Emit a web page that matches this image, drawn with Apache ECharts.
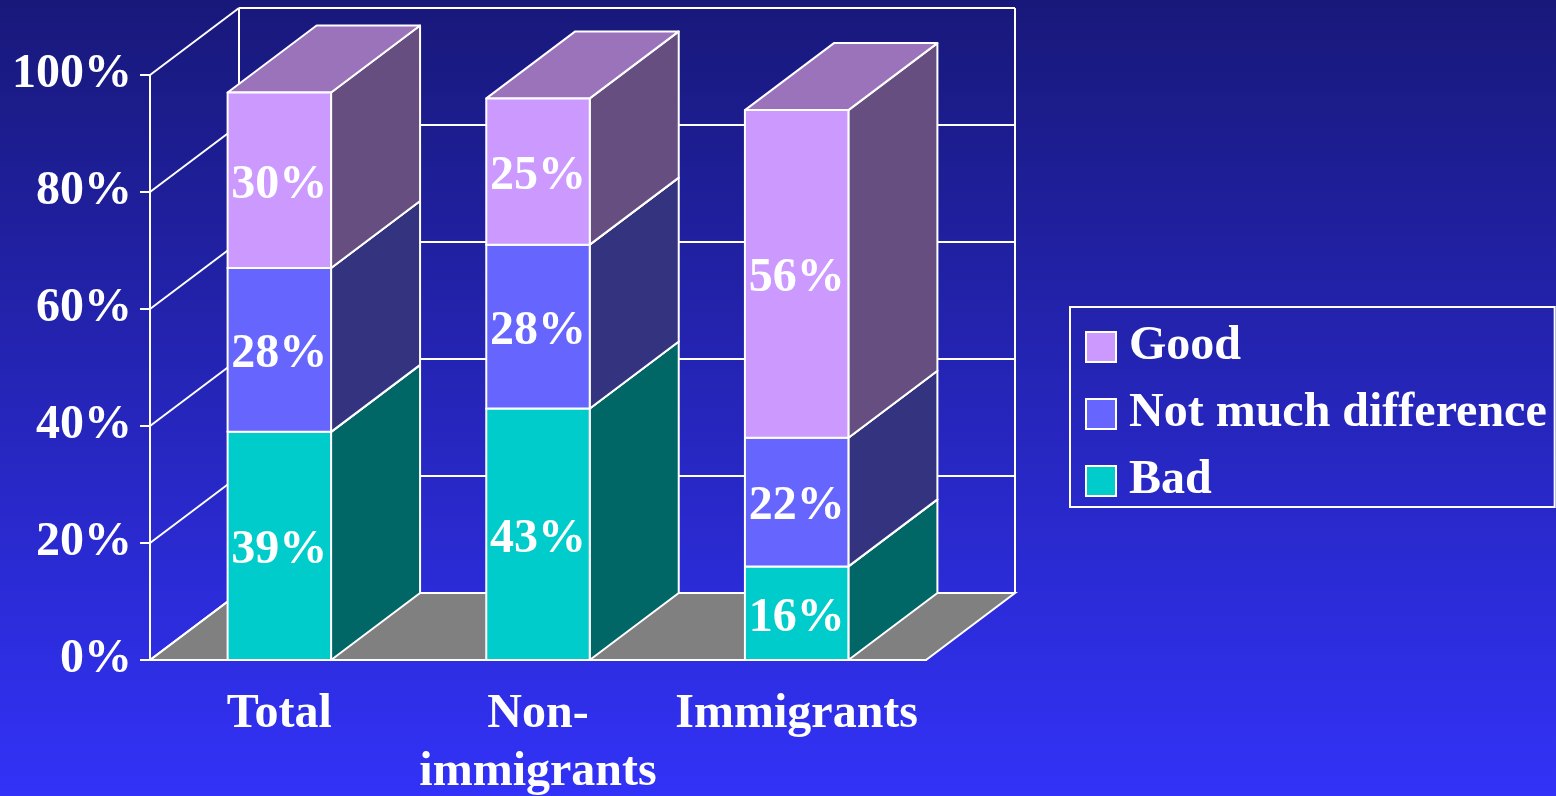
<!DOCTYPE html>
<html>
<head>
<meta charset="utf-8">
<script src="https://cdn.jsdelivr.net/npm/echarts@6/dist/echarts.min.js"></script>
<style>
  html, body { margin: 0; padding: 0; }
  #chart { width: 1556px; height: 796px; }
</style>
</head>
<body>
<div id="chart"></div>
<script>
// Survey answers per group, in percent
const categories = ['Total', 'Non-\nimmigrants', 'Immigrants'];
const bad = [39, 43, 16];
const notMuch = [28, 28, 22];
const good = [30, 25, 56];
const yTicks = [0, 20, 40, 60, 80, 100];

// Oblique projection of the box depth, in pixels
const DEPTH_X = 89;
const DEPTH_Y = -67;
const FONT = '"Liberation Serif", "Times New Roman", serif';
const FONT_SIZE = 48;
const EDGE = '#ffffff';

// Face colours for each stacked segment: front, side, top
const faces = {
  'Bad': { front: '#00cccc', side: '#006666', top: '#009999' },
  'Not much difference': { front: '#6666ff', side: '#333380', top: '#4d4dbf' },
  'Good': { front: '#cc99ff', side: '#664f80', top: '#9a73bb' }
};

// Stack the segments bottom-up
const stackOrder = [
  { name: 'Bad', values: bad },
  { name: 'Not much difference', values: notMuch },
  { name: 'Good', values: good }
];
const running = categories.map(() => 0);
const stacked = stackOrder.map(s => {
  const rows = s.values.map((v, i) => {
    const row = [i, running[i], v];
    running[i] += v;
    return row;
  });
  return { name: s.name, rows };
});

function boxRenderer(name) {
  const c = faces[name];
  return function (params, api) {
    const ci = api.value(0);
    const base = api.value(1);
    const v = api.value(2);
    const pb = api.coord([ci, base]);
    const pt = api.coord([ci, base + v]);
    const w = api.size([1, 0])[0] * 0.4;
    const x0 = pb[0] - w / 2, x1 = pb[0] + w / 2;
    const yb = pb[1], yt = pt[1];
    const line = { stroke: EDGE, lineWidth: 2, lineJoin: 'round' };
    return {
      type: 'group',
      children: [
        { type: 'polygon', shape: { points: [[x1, yb], [x1 + DEPTH_X, yb + DEPTH_Y], [x1 + DEPTH_X, yt + DEPTH_Y], [x1, yt]] },
          style: Object.assign({ fill: c.side }, line) },
        { type: 'polygon', shape: { points: [[x0, yt], [x1, yt], [x1 + DEPTH_X, yt + DEPTH_Y], [x0 + DEPTH_X, yt + DEPTH_Y]] },
          style: Object.assign({ fill: c.top }, line) },
        { type: 'rect', shape: { x: x0, y: yt, width: w, height: yb - yt },
          style: Object.assign({ fill: c.front }, line) },
        { type: 'text', x: pb[0], y: (yb + yt) / 2 + 5,
          style: { text: v + '%', align: 'center', verticalAlign: 'middle', fill: '#ffffff',
                   font: 'bold ' + FONT_SIZE + 'px ' + FONT } }
      ]
    };
  };
}

// Floor, back wall and side wall of the plot box
function frameRenderer(params, api) {
  const cs = params.coordSys;
  const xl = cs.x, xr = cs.x + cs.width;
  const y0 = api.coord([0, 0])[1];
  const yTop = api.coord([0, yTicks[yTicks.length - 1]])[1];
  const line = { stroke: EDGE, lineWidth: 2, fill: null };
  const children = [
    { type: 'polygon', shape: { points: [[xl, y0], [xr, y0], [xr + DEPTH_X, y0 + DEPTH_Y], [xl + DEPTH_X, y0 + DEPTH_Y]] },
      style: { fill: '#808080', stroke: EDGE, lineWidth: 2 } },
    { type: 'line', shape: { x1: xl + DEPTH_X, y1: y0 + DEPTH_Y, x2: xl + DEPTH_X, y2: yTop + DEPTH_Y }, style: line },
    { type: 'line', shape: { x1: xr + DEPTH_X, y1: y0 + DEPTH_Y, x2: xr + DEPTH_X, y2: yTop + DEPTH_Y }, style: line }
  ];
  yTicks.forEach(t => {
    const y = api.coord([0, t])[1];
    children.push({ type: 'line', shape: { x1: xl, y1: y, x2: xl + DEPTH_X, y2: y + DEPTH_Y }, style: line });
    children.push({ type: 'line', shape: { x1: xl + DEPTH_X, y1: y + DEPTH_Y, x2: xr + DEPTH_X, y2: y + DEPTH_Y }, style: line });
  });
  return { type: 'group', children };
}

const chart = echarts.init(document.getElementById('chart'), null, { renderer: 'canvas' });

const series = [
  { type: 'custom', name: 'frame', renderItem: frameRenderer, data: [[0, 0]], silent: true, z: 1 }
].concat(stacked.map(s => ({
  type: 'custom',
  name: s.name,
  renderItem: boxRenderer(s.name),
  encode: { x: 0, y: 1 },
  itemStyle: { color: faces[s.name].front },
  data: s.rows,
  z: 2
})));

chart.setOption({
  animation: false,
  backgroundColor: {
    type: 'linear', x: 0, y: 0, x2: 0, y2: 1,
    colorStops: [{ offset: 0, color: '#18187a' }, { offset: 1, color: '#3232f8' }]
  },
  grid: { left: 150, top: 75, width: 776, height: 585, outerBoundsMode: 'none' },
  legend: {
    data: ['Good', 'Not much difference', 'Bad'],
    orient: 'vertical',
    left: 1070,
    top: 307,
    padding: [16, 8, 2, 15],
    borderColor: '#ffffff',
    borderWidth: 2,
    icon: 'rect',
    itemWidth: 30,
    itemHeight: 30,
    itemGap: 19,
    itemStyle: { borderColor: '#ffffff', borderWidth: 2 },
    selectedMode: false,
    textStyle: { color: '#ffffff', fontFamily: FONT, fontWeight: 'bold', fontSize: FONT_SIZE, lineHeight: 46, padding: [0, 0, 0, 8] }
  },
  xAxis: {
    type: 'category',
    data: categories,
    boundaryGap: true,
    axisLine: { lineStyle: { color: '#ffffff', width: 2 } },
    axisTick: { length: 10, lineStyle: { color: '#ffffff', width: 2 } },
    axisLabel: { color: '#ffffff', fontFamily: FONT, fontWeight: 'bold', fontSize: FONT_SIZE, lineHeight: 58, margin: 26, interval: 0 },
    splitLine: { show: false }
  },
  yAxis: {
    type: 'value',
    min: 0,
    max: 100,
    interval: 20,
    axisLine: { show: true, lineStyle: { color: '#ffffff', width: 2 } },
    axisTick: { show: true, length: 10, lineStyle: { color: '#ffffff', width: 2 } },
    axisLabel: { color: '#ffffff', fontFamily: FONT, fontWeight: 'bold', fontSize: FONT_SIZE, margin: 18,
                 padding: [10, 0, 0, 0], formatter: '{value}%' },
    splitLine: { show: false }
  },
  series
});
</script>
</body>
</html>
